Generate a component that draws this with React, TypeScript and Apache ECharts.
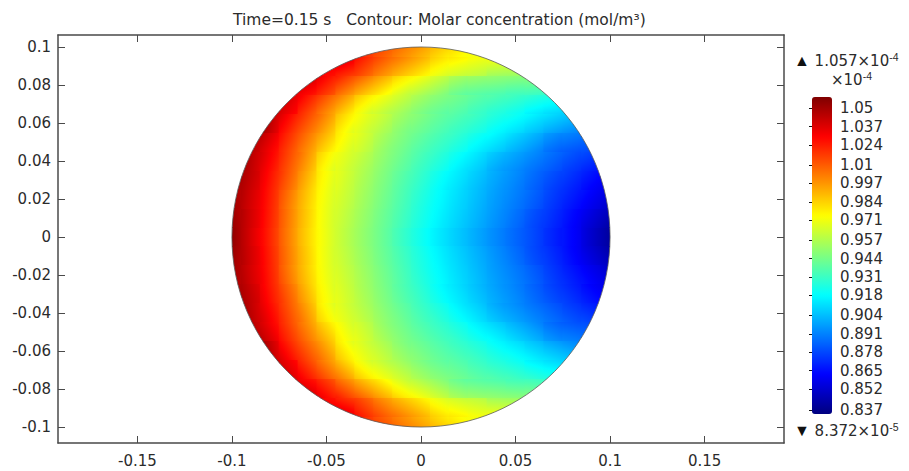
import React, { useEffect, useRef } from "react";
import * as echarts from "echarts";

// Sample positions (m) of the concentration field, upper half of the disc (field mirrored about y = 0)
const xSamples = [-0.1, -0.09, -0.08, -0.07, -0.06, -0.05, -0.04, -0.03, -0.02, -0.01, 0, 0.01, 0.02, 0.03, 0.04, 0.05, 0.06, 0.07, 0.08, 0.09, 0.1];
const ySamples = [0, 0.01, 0.02, 0.03, 0.04, 0.05, 0.06, 0.07, 0.08, 0.09, 0.1];

// Molar concentration (x 1e-4 mol/m^3); rows follow ySamples, columns follow xSamples
const concRow0 = [1.053, 1.038, 1.022, 1.002, 0.984, 0.970, 0.960, 0.951, 0.942, 0.932, 0.923, 0.915, 0.908, 0.901, 0.894, 0.887, 0.880, 0.872, 0.865, 0.854, 0.844];
const concRow1 = [1.051, 1.039, 1.023, 1.003, 0.985, 0.970, 0.961, 0.952, 0.943, 0.934, 0.925, 0.917, 0.910, 0.903, 0.896, 0.889, 0.881, 0.874, 0.866, 0.857, 0.848];
const concRow2 = [1.050, 1.039, 1.024, 1.004, 0.986, 0.971, 0.963, 0.954, 0.945, 0.936, 0.927, 0.919, 0.912, 0.905, 0.898, 0.892, 0.885, 0.877, 0.870, 0.863, 0.855];
const concRow3 = [1.049, 1.042, 1.026, 1.009, 0.990, 0.973, 0.965, 0.956, 0.947, 0.938, 0.930, 0.921, 0.914, 0.907, 0.900, 0.894, 0.887, 0.880, 0.874, 0.867, 0.861];
const concRow4 = [null, 1.044, 1.030, 1.013, 0.996, 0.976, 0.967, 0.959, 0.950, 0.942, 0.934, 0.927, 0.919, 0.912, 0.904, 0.898, 0.892, 0.886, 0.880, 0.875, null];
const concRow5 = [null, 1.046, 1.035, 1.018, 1.002, 0.986, 0.972, 0.964, 0.954, 0.946, 0.939, 0.933, 0.927, 0.920, 0.914, 0.907, 0.900, 0.892, 0.888, 0.885, null];
const concRow6 = [null, null, 1.044, 1.026, 1.011, 0.996, 0.978, 0.968, 0.960, 0.951, 0.945, 0.939, 0.934, 0.929, 0.923, 0.918, 0.912, 0.906, 0.901, null, null];
const concRow7 = [null, null, 1.043, 1.036, 1.021, 1.006, 0.991, 0.976, 0.967, 0.959, 0.951, 0.945, 0.941, 0.936, 0.932, 0.928, 0.923, 0.919, 0.916, null, null];
const concRow8 = [null, null, null, 1.040, 1.035, 1.023, 1.010, 0.997, 0.985, 0.973, 0.965, 0.957, 0.949, 0.946, 0.944, 0.942, 0.941, 0.938, null, null, null];
const concRow9 = [null, null, null, null, null, 1.033, 1.029, 1.017, 1.005, 0.995, 0.986, 0.976, 0.971, 0.967, 0.964, 0.963, null, null, null, null, null];
const concRow10 = [null, null, null, null, null, null, null, 1.022, 1.013, 1.004, 0.996, 0.987, 0.980, 0.974, null, null, null, null, null, null, null];
const concRows = [concRow0, concRow1, concRow2, concRow3, concRow4, concRow5, concRow6, concRow7, concRow8, concRow9, concRow10];

const cellSize = 0.01;
const discRadius = 0.1;
const concMin = 0.8372;
const concMax = 1.057;

const xTicks = [-0.15, -0.1, -0.05, 0, 0.05, 0.1, 0.15];
const yTicks = [-0.1, -0.08, -0.06, -0.04, -0.02, 0, 0.02, 0.04, 0.06, 0.08, 0.1];
const colorbarTicks = [1.05, 1.037, 1.024, 1.01, 0.997, 0.984, 0.971, 0.957, 0.944, 0.931, 0.918, 0.904, 0.891, 0.878, 0.865, 0.852, 0.837];

const jetColors = ["#00007f", "#0000ff", "#007fff", "#00ffff", "#7fff7f", "#ffff00", "#ff7f00", "#ff0000", "#7f0000"];

const FONT = "DejaVu Sans";
const TXT = "#2b2b2b";
const FRAME = "#4a4a4a";
const FS = 15;

// field value at column ix, signed row iy (mirror about y = 0)
function valAt(ix: number, iy: number): number | null {
  const r = Math.abs(iy);
  if (r >= concRows.length || ix < 0 || ix >= xSamples.length) return null;
  const v = concRows[r][ix];
  return v == null ? null : v;
}

function slope(v: number, lo: number | null, hi: number | null) {
  if (lo != null && hi != null) return (hi - lo) / 2;
  if (hi != null) return hi - v;
  if (lo != null) return v - lo;
  return 0;
}

function jet(v: number) {
  const t = Math.max(0, Math.min(1, (v - concMin) / (concMax - concMin)));
  return echarts.color.lerp(t, jetColors) as string;
}

function buildField() {
  const out: number[][] = [];
  ySamples.forEach((y, r) => {
    xSamples.forEach((x, c) => {
      const v = concRows[r][c];
      if (v == null) return;
      out.push([x, y, v, c, r]);
      if (y !== 0) out.push([x, -y, v, c, -r]);
    });
  });
  return out;
}

export default function App() {
  const ref = useRef<HTMLDivElement>(null);
  useEffect(() => {
    if (!ref.current) return;
    const chart = echarts.init(ref.current, null, { renderer: "svg" });
    const fieldData = buildField();
    const frameAxis = (extra: any) => ({
      type: "value",
      axisLine: { show: true, onZero: false, lineStyle: { color: FRAME, width: 1.5 } },
      splitLine: { show: false },
      ...extra,
    });
    const supRich = { s: { fontSize: 10.5, verticalAlign: "top", padding: [0, 0, 8, 0] } };
    const option: any = {
      animation: false,
      backgroundColor: "#ffffff",
      title: {
        text: "Time=0.15 s   Contour: Molar concentration (mol/m³)",
        left: 228,
        top: 7,
        textStyle: { fontFamily: FONT, fontSize: 15.5, fontWeight: "normal", color: TXT },
      },
      grid: [
        { left: 58, top: 35, width: 726, height: 408, show: false, outerBoundsMode: "none" },
        { left: 812, top: 97, width: 20, height: 317, show: false, outerBoundsMode: "none" },
      ],
      xAxis: [
        frameAxis({
          gridIndex: 0, min: -0.192, max: 0.192, position: "bottom",
          axisTick: { show: true, inside: true, length: 7, customValues: xTicks, lineStyle: { color: FRAME } },
          axisLabel: { customValues: xTicks, margin: 10, fontFamily: FONT, fontSize: FS, color: TXT },
        }),
        frameAxis({
          gridIndex: 0, min: -0.192, max: 0.192, position: "top",
          axisTick: { show: true, inside: true, length: 7, customValues: xTicks, lineStyle: { color: FRAME } },
          axisLabel: { show: false },
        }),
        { gridIndex: 1, type: "value", min: 0, max: 1, show: false },
      ],
      yAxis: [
        frameAxis({
          gridIndex: 0, min: -0.1084, max: 0.1063, position: "left",
          axisTick: { show: true, inside: true, length: 7, customValues: yTicks, lineStyle: { color: FRAME } },
          axisLabel: { customValues: yTicks, margin: 7, fontFamily: FONT, fontSize: FS, color: TXT },
        }),
        frameAxis({
          gridIndex: 0, min: -0.1084, max: 0.1063, position: "right",
          axisTick: { show: true, inside: true, length: 7, customValues: yTicks, lineStyle: { color: FRAME } },
          axisLabel: { show: false },
        }),
        {
          gridIndex: 1, type: "value", min: 0.8345, max: 1.0578, position: "right",
          axisLine: { show: false }, splitLine: { show: false },
          axisTick: { show: true, inside: true, length: 3, customValues: colorbarTicks, lineStyle: { color: "#111" } },
          axisLabel: { customValues: colorbarTicks, margin: 8, fontFamily: FONT, fontSize: FS, color: TXT },
        },
        {
          gridIndex: 1, type: "value", min: 0.8345, max: 1.0578, position: "left",
          axisLine: { show: false }, splitLine: { show: false },
          axisTick: { show: true, inside: true, length: 3, customValues: colorbarTicks, lineStyle: { color: "#111" } },
          axisLabel: { show: false },
        },
      ],
      visualMap: {
        type: "continuous",
        seriesIndex: 0,
        dimension: 2,
        min: concMin,
        max: concMax,
        calculable: false,
        hoverLink: false,
        left: 812,
        top: 97,
        padding: 0,
        itemWidth: 20,
        itemHeight: 317,
        inRange: { color: jetColors },
      },
      series: [
        {
          type: "custom",
          xAxisIndex: 0,
          yAxisIndex: 0,
          clip: false,
          data: fieldData,
          encode: { x: 0, y: 1 },
          renderItem: (_p: any, api: any) => {
            const p = api.coord([api.value(0), api.value(1)]);
            const s = api.size([cellSize, cellSize]);
            const c = api.coord([0, 0]);
            const r = api.size([discRadius, discRadius]);
            const v = api.value(2) as number;
            const ix = api.value(3) as number;
            const iy = api.value(4) as number;
            // smooth shading inside the cell, along the local slope between neighbouring samples
            const gx = slope(v, valAt(ix - 1, iy), valAt(ix + 1, iy));
            const gy = slope(v, valAt(ix, iy - 1), valAt(ix, iy + 1));
            const mag = Math.hypot(gx, gy);
            let fill: any = api.visual("color");
            if (mag > 1e-7) {
              const dx = gx / mag;
              const dy = -gy / mag;
              const k = 0.5 * (Math.abs(dx) + Math.abs(dy));
              const stops = [] as any[];
              for (let i = 0; i <= 6; i++) {
                const f = i / 6;
                stops.push({ offset: f, color: jet(v + mag * k * (2 * f - 1)) });
              }
              fill = { type: "linear", x: 0.5 - k * dx, y: 0.5 - k * dy, x2: 0.5 + k * dx, y2: 0.5 + k * dy, colorStops: stops };
            }
            return {
              type: "rect",
              shape: { x: p[0] - s[0] / 2 - 0.5, y: p[1] - s[1] / 2 - 0.5, width: s[0] + 1, height: s[1] + 1 },
              style: { fill },
              clipPath: { type: "ellipse", shape: { cx: c[0], cy: c[1], rx: r[0], ry: r[1] } },
            };
          },
        },
        {
          type: "custom",
          xAxisIndex: 0,
          yAxisIndex: 0,
          clip: false,
          data: [[0, 0]],
          renderItem: (_p: any, api: any) => {
            const c = api.coord([api.value(0), api.value(1)]);
            const r = api.size([discRadius, discRadius]);
            return {
              type: "ellipse",
              shape: { cx: c[0], cy: c[1], rx: r[0], ry: r[1] },
              style: { fill: "none", stroke: "#5a5a5a", lineWidth: 0.8 },
            };
          },
        },
      ],
      graphic: [
        {
          type: "text",
          left: 794,
          top: 51,
          style: {
            text: "{t|▲} 1.057×10{s|-4}",
            fontFamily: FONT, fontSize: FS, fill: TXT,
            rich: { t: { fontSize: 16, fill: "#111" }, ...supRich },
          },
        },
        {
          type: "text",
          left: 831,
          top: 70,
          style: { text: "×10{s|-4}", fontFamily: FONT, fontSize: FS, fill: TXT, rich: supRich },
        },
        {
          type: "text",
          left: 794,
          top: 421,
          style: {
            text: "{t|▼} 8.372×10{s|-5}",
            fontFamily: FONT, fontSize: FS, fill: TXT,
            rich: { t: { fontSize: 16, fill: "#111" }, ...supRich },
          },
        },
      ],
    };
    chart.setOption(option);
    return () => chart.dispose();
  }, []);
  return <div ref={ref} style={{ position: "fixed", left: 0, top: 0, width: 909, height: 471 }} />;
}
